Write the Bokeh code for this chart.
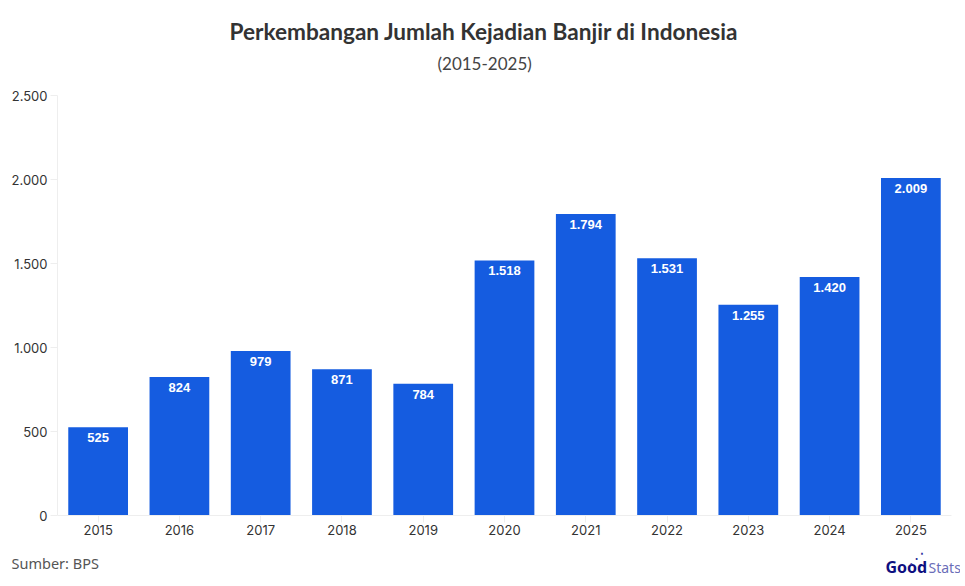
from bokeh.core.properties import value
from bokeh.plotting import figure
from bokeh.models import ColumnDataSource, Label, FixedTicker, Range1d, Title
from bokeh.embed import file_html
from bokeh.resources import INLINE

years = ["2015", "2016", "2017", "2018", "2019", "2020", "2021", "2022", "2023", "2024", "2025"]
values = [525, 824, 979, 871, 784, 1518, 1794, 1531, 1255, 1420, 2009]
y_ticks = [0, 500, 1000, 1500, 2000, 2500]
y_tick_labels = ["0", "500", "1.000", "1.500", "2.000", "2.500"]
value_labels = [f"{v:,}".replace(",", ".") for v in values]

W, H = 960, 580
LEFT, TOP, FW, FH = 57, 95, 894, 420
src = ColumnDataSource(dict(year=years, value=values, label=value_labels))

p = figure(x_range=years, width=W, height=H, output_backend="svg", toolbar_location=None,
           min_border_left=LEFT, min_border_right=W - LEFT - FW, min_border_top=TOP, min_border_bottom=H - TOP - FH,
           frame_width=FW, frame_height=FH, outline_line_color=None, background_fill_color="white")
p.y_range = Range1d(0, 2500)
p.vbar(x="year", top="value", width=0.735, source=src, fill_color="#155CE0", line_color=None)

p.grid.visible = False
p.x_range.range_padding = 0
p.yaxis.ticker = FixedTicker(ticks=y_ticks)
p.yaxis.major_label_overrides = {t: l for t, l in zip(y_ticks, y_tick_labels)}
for ax in (p.xaxis[0], p.yaxis[0]):
    ax.axis_line_color = "#EEEEEE"
    ax.major_tick_line_color = "#EEEEEE"
    ax.major_tick_in = 0
    ax.minor_tick_line_color = None
    ax.major_label_text_font = "Inter"
    ax.major_label_text_font_size = "13px"
    ax.major_label_text_color = "#333333"
p.yaxis.major_tick_out = 7
p.xaxis.major_tick_out = 7
p.yaxis.major_label_standoff = 3
p.xaxis.major_label_standoff = 2

p.text(x="year", y="value", text="label", source=src, text_align="center",
       text_baseline="top", y_offset=6, text_color="white",
       text_font=value("Liberation Sans"), text_font_style="bold", text_font_size="13px")

p.add_layout(Label(x=380, y=32, x_units="screen", y_units="screen", text="(2015-2025)", text_font="Lato",
                   text_font_size="17px", text_color="#444444", text_baseline="middle"), "above")
p.add_layout(Label(x=172, y=43, x_units="screen", y_units="screen",
                   text="Perkembangan Jumlah Kejadian Banjir di Indonesia", text_font="Lato",
                   text_font_size="22.6px", text_color="#333333", text_font_style="bold",
                   text_baseline="middle"), "above")
p.add_layout(Title(text="Sumber: BPS", align="left", text_font="Noto Sans", text_font_size="14.5px",
                   text_color="#555555", text_font_style="normal", offset=-46, standoff=27), "below")
p.add_layout(Label(x=885 - LEFT, y=31, x_units="screen", y_units="screen", text="Good", text_font="Noto Sans",
                   text_font_size="16px", text_color="#0D0F80", text_font_style="bold"), "below")
p.add_layout(Label(x=928 - LEFT, y=51, x_units="screen", y_units="screen", text="Stats", text_font="Noto Sans",
                   text_font_size="14px", text_color="#6A6DB8"), "below")
p.add_layout(Label(x=908 - LEFT, y=79, x_units="screen", y_units="screen", text="⋰", text_font="DejaVu Sans",
                   text_font_size="16px", text_color="#2E2F9A"), "below")

open("out.html", "w").write(file_html(p, INLINE))
